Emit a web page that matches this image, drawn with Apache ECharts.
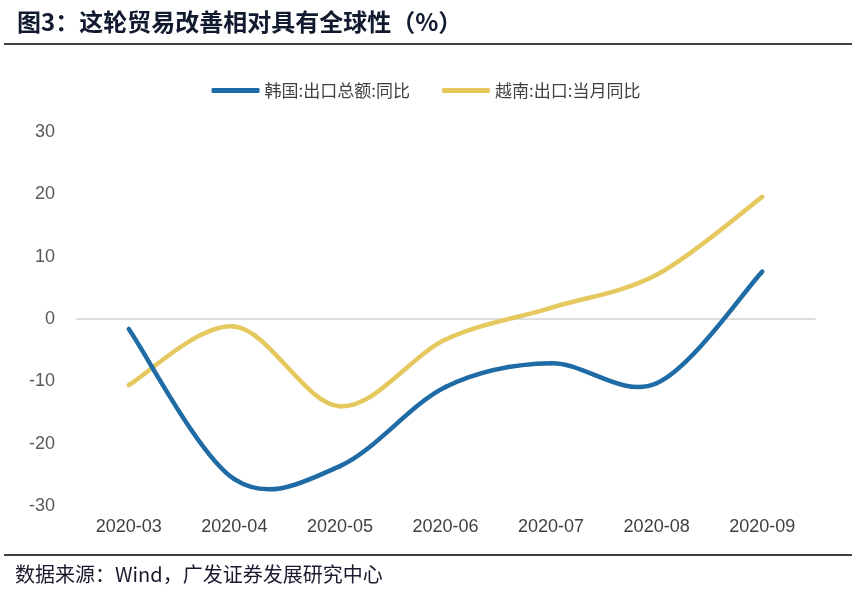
<!DOCTYPE html>
<html>
<head>
<meta charset="utf-8">
<script src="https://cdn.jsdelivr.net/npm/echarts@6/dist/echarts.min.js"></script>
<style>html,body{margin:0;padding:0;background:#fff;}#c{width:852px;height:601px;}</style>
</head>
<body>
<div id="c"></div>
<script>
const categories = ['2020-03','2020-04','2020-05','2020-06','2020-07','2020-08','2020-09'];
const korea = [-1.6, -25.7, -23.6, -10.9, -7.1, -10.3, 7.6];
const vietnam = [-10.6, -1.2, -14.0, -3.3, 1.8, 7.1, 19.6];
const yTicks = [-30, -20, -10, 0, 10, 20, 30];

const BLUE = '#1f6ba5', GOLD = '#e5c95f';

// Smooth curve through the data points (Catmull-Rom style Bezier), coordinates via the axes
function smoothRenderer(values, color) {
  return function (params, api) {
    if (params.dataIndex !== 0) return null;
    const p = values.map((v, i) => api.coord([i, v]));
    const n = p.length;
    const children = [];
    for (let i = 0; i < n - 1; i++) {
      const p0 = p[Math.max(i - 1, 0)], p1 = p[i], p2 = p[i + 1], p3 = p[Math.min(i + 2, n - 1)];
      children.push({
        type: 'bezierCurve',
        shape: {
          x1: p1[0], y1: p1[1],
          cpx1: p1[0] + (p2[0] - p0[0]) / 6, cpy1: p1[1] + (p2[1] - p0[1]) / 6,
          cpx2: p2[0] - (p3[0] - p1[0]) / 6, cpy2: p2[1] - (p3[1] - p1[1]) / 6,
          x2: p2[0], y2: p2[1]
        },
        style: {stroke: color, lineWidth: 4.5, fill: null, lineCap: 'round'}
      });
    }
    return {type: 'group', children};
  };
}

const chart = echarts.init(document.getElementById('c'));
chart.setOption({
  backgroundColor: '#fff',
  animation: false,
  graphic: [
    {type:'text', left: 17, top: 10, style:{text:'图3：这轮贸易改善相对具有全球性（%）', font:'bold 24px "Noto Sans CJK SC", sans-serif', fill:'#111a2e'}},
    {type:'line', shape:{x1:4, y1:44, x2:852, y2:44}, style:{stroke:'#000', lineWidth:1.5}},
    {type:'line', shape:{x1:4, y1:555, x2:852, y2:555}, style:{stroke:'#000', lineWidth:1.5}},
    {type:'text', left: 15, top: 564, style:{text:'数据来源：Wind，广发证券发展研究中心', font:'20px "Noto Sans CJK SC", sans-serif', fill:'#1a1a2e'}}
  ],
  legend: {
    top: 77,
    left: 'center',
    itemWidth: 48,
    itemHeight: 5,
    itemGap: 32,
    icon: 'roundRect',
    textStyle: {fontSize: 17, color: '#404040', fontFamily: '"Noto Sans CJK SC", sans-serif'},
    data: [
      {name: '韩国:出口总额:同比', itemStyle: {color: BLUE}},
      {name: '越南:出口:当月同比', itemStyle: {color: GOLD}}
    ]
  },
  grid: {left: 76, right: 37, top: 132, bottom: 95, containLabel: false},
  xAxis: {
    type: 'category',
    data: categories,
    boundaryGap: true,
    axisLine: {onZero: true, lineStyle: {color: '#d4d4d4', width: 1.5}},
    axisTick: {show: false},
    axisLabel: {fontSize: 18, color: '#404040', fontFamily: 'Arial, "Liberation Sans", sans-serif', margin: 12, interval: 0},
    splitLine: {show: false}
  },
  yAxis: {
    type: 'value',
    min: -30, max: 30, interval: 10,
    axisLine: {show: false},
    axisTick: {show: false},
    splitLine: {show: false},
    axisLabel: {fontSize: 18, color: '#595959', fontFamily: 'Arial, "Liberation Sans", sans-serif', margin: 21,
      formatter: v => yTicks.includes(v) ? String(v) : ''}
  },
  series: [
    {
      name: '韩国:出口总额:同比', type: 'custom', clip: false,
      data: korea.map((v, i) => [i, v]), encode: {x: 0, y: 1},
      itemStyle: {color: BLUE},
      renderItem: smoothRenderer(korea, BLUE), z: 3
    },
    {
      name: '越南:出口:当月同比', type: 'custom', clip: false,
      data: vietnam.map((v, i) => [i, v]), encode: {x: 0, y: 1},
      itemStyle: {color: GOLD},
      renderItem: smoothRenderer(vietnam, GOLD), z: 2
    }
  ]
});
</script>
</body>
</html>
